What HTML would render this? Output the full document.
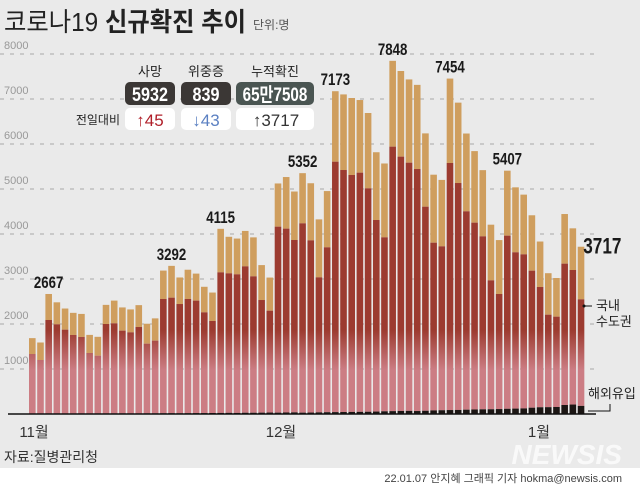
<!DOCTYPE html>
<html><head><meta charset="utf-8">
<style>
body{margin:0;background:#fff;}
svg{display:block;font-family:"Liberation Sans","Noto Sans CJK KR",sans-serif;}
</style></head>
<body>
<svg id="chart" width="640" height="487" viewBox="0 0 640 487" xmlns="http://www.w3.org/2000/svg">
<defs>
<linearGradient id="redGrad" gradientUnits="userSpaceOnUse" x1="0" y1="330" x2="0" y2="370">
<stop offset="0" stop-color="#9c3b30"/><stop offset="1" stop-color="#cc7d84"/>
</linearGradient>
</defs>
<rect x="0" y="0" width="640" height="468" fill="#eaeaea"/>
<g id="grid"></g>
<g id="bars"></g>
<g id="labels"></g>
<text x="4" y="31" font-size="26" fill="#222" textLength="242" lengthAdjust="spacingAndGlyphs">코로나19 <tspan font-weight="bold">신규확진 추이</tspan></text>
<text x="253" y="29" font-size="12" fill="#555">단위:명</text>

<g>
<text x="150" y="76" font-size="13" text-anchor="middle" fill="#222">사망</text>
<text x="206" y="76" font-size="13" text-anchor="middle" fill="#222">위중증</text>
<text x="275" y="76" font-size="13" text-anchor="middle" fill="#222">누적확진</text>
<rect x="125" y="82" width="50" height="23" rx="5" fill="#3b3735"/>
<rect x="181" y="82" width="50" height="23" rx="5" fill="#3b3735"/>
<rect x="236" y="82" width="78" height="23" rx="5" fill="#4a5552"/>
<g font-size="19" fill="#fff" text-anchor="middle" font-weight="bold">
<text x="150" y="101" transform="translate(150 0) scale(0.85 1) translate(-150 0)">5932</text>
<text x="206" y="101" transform="translate(206 0) scale(0.85 1) translate(-206 0)">839</text>
<text x="275" y="101" transform="translate(275 0) scale(0.8 1) translate(-275 0)">65만7508</text>
</g>
<rect x="125" y="108" width="50" height="22" rx="5" fill="#fff"/>
<rect x="181" y="108" width="50" height="22" rx="5" fill="#fff"/>
<rect x="236" y="108" width="78" height="22" rx="5" fill="#fff"/>
<text x="120" y="124" font-size="12" text-anchor="end" fill="#222">전일대비</text>
<text x="150" y="126" font-size="17" text-anchor="middle" fill="#b0202a">↑45</text>
<text x="206" y="126" font-size="17" text-anchor="middle" fill="#5b80c2">↓43</text>
<text x="276" y="126" font-size="17" text-anchor="middle" fill="#333">↑3717</text>
</g>

<line x1="8" y1="414" x2="596" y2="414" stroke="#111" stroke-width="1.5"/>
<text x="34" y="437" font-size="15" text-anchor="middle" fill="#333">11월</text>
<text x="281" y="437" font-size="15" text-anchor="middle" fill="#333">12월</text>
<text x="539" y="437" font-size="15" text-anchor="middle" fill="#333">1월</text>

<g>
<circle cx="584" cy="306" r="1.5" fill="#111"/>
<line x1="584" y1="306" x2="592" y2="306" stroke="#111"/>
<text x="596" y="310" font-size="13" fill="#222">국내</text>
<text x="596" y="326" font-size="13" fill="#222">수도권</text>
</g>
<g>
<text x="588" y="398" font-size="13" fill="#222">해외유입</text>
<polyline points="588,411 610,411 610,404" fill="none" stroke="#111"/>
</g>

<text x="4" y="462" font-size="14" fill="#333">자료:질병관리청</text>
<text x="622" y="464" font-size="28" font-weight="bold" font-style="italic" text-anchor="end" fill="#fff" opacity="0.75">NEWSIS</text>
<text x="622" y="482" font-size="11" text-anchor="end" fill="#444">22.01.07 안지혜 그래픽 기자 hokma@newsis.com</text>
</svg>
<script>
const totals=[1686,1589,2667,2482,2344,2248,2224,1758,1715,2425,2520,2368,2324,2419,2006,2125,3187,3292,3034,3206,3120,2827,2699,4115,3938,3899,4068,3925,3309,3032,5123,5266,4944,5352,5128,4325,4954,7173,7102,7022,6977,6689,5817,5567,7848,7622,7435,7314,6236,5318,5202,7454,6919,6233,5842,5419,4207,3865,5407,5037,4875,4416,3833,3129,3022,4444,4126,3717];
const overseas=[10,10,12,12,10,10,12,10,12,12,12,14,12,12,14,14,16,18,16,18,20,20,22,24,26,24,28,28,30,32,30,34,36,30,32,36,40,42,44,46,48,50,54,60,64,68,70,66,72,80,84,88,90,96,100,104,106,110,116,120,124,140,150,152,156,200,210,180];
const capitalTop=[1333,1200,2089,1993,1874,1756,1711,1356,1296,2000,2015,1852,1815,1933,1563,1630,2556,2585,2444,2556,2519,2259,2067,3148,3126,3104,3281,3059,2533,2296,4163,4119,3867,4237,3859,3037,3704,5607,5422,5311,5363,5015,4311,3926,5941,5719,5585,5444,4607,3807,3726,5578,5133,4504,4252,3948,2970,2667,3963,3593,3548,3185,2822,2207,2163,3341,3200,2548];
const capital=capitalTop.map((v,i)=>v-overseas[i]);
const yTicks=[1000,2000,3000,4000,5000,6000,7000,8000];
const peakIdx=[2,17,23,33,37,44,51,58,67];
const peakText=["2667","3292","4115","5352","7173","7848","7454","5407","3717"];

const NS="http://www.w3.org/2000/svg";
const x0=29,pitch=8.19,bw=6.6,base=414,k=0.045;
const xs=i=>x0+i*pitch;
const ys=v=>base-v*k;
function mk(t,a,p){const e=document.createElementNS(NS,t);for(const n in a)e.setAttribute(n,a[n]);p.appendChild(e);return e;}
const grid=document.getElementById('grid');
yTicks.forEach(t=>{
  const l=mk('line',{x1:0,x2:600,y1:ys(t),y2:ys(t),stroke:'#a8a8a8','stroke-dasharray':'4 6'},grid);
  
  
  const tx=mk('text',{x:4,y:ys(t)-5,'font-size':11,fill:'#999'},grid);
  
  
  tx.textContent=t;
});
const bars=document.getElementById('bars');
totals.forEach((tot,i)=>{
  const o=overseas[i],c=capital[i],x=xs(i);
  const r1=mk('rect',{x:x,y:ys(tot),width:bw,height:(tot-o-c)*k,fill:'#cf9e5e'},bars);
  
  
  const r2=mk('rect',{x:x,y:ys(o+c),width:bw,height:c*k,fill:'url(#redGrad)'},bars);
  
  
  const r3=mk('rect',{x:x,y:ys(o),width:bw,height:o*k,fill:'#1c1614'},bars);
  
  
});
const labels=document.getElementById('labels');
peakIdx.forEach((idx,j)=>{
  const last=j===peakIdx.length-1;
  const cx=last?xs(idx)+bw+18:xs(idx)+bw/2;
  const cy=last?ys(totals[idx])+7:ys(totals[idx])-6;
  const t=mk('text',{x:cx,y:cy,'font-size':last?22:17,'font-weight':'bold','text-anchor':'middle',fill:'#1a1a1a',transform:`translate(${cx} 0) scale(0.78 1) translate(${-cx} 0)`},labels);
  
  
  t.textContent=peakText[j];
});
</script>
</body></html>
